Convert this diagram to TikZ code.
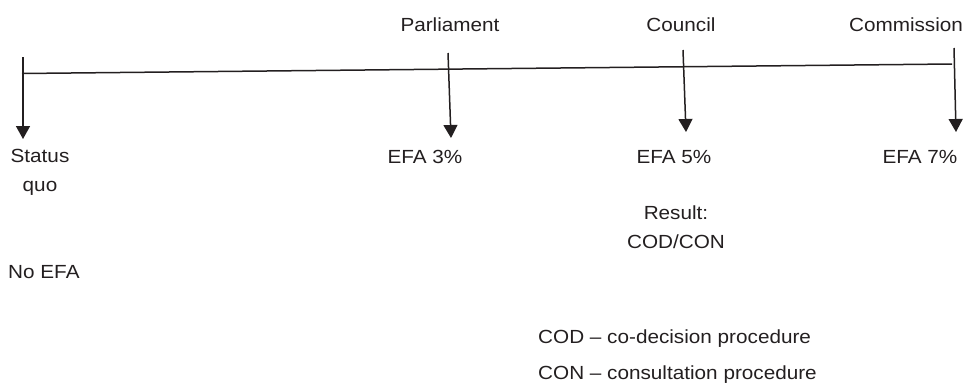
\documentclass[tikz,border=0pt]{standalone}
\usepackage{fontspec}
\setmainfont{Liberation Sans}[FakeStretch=1.09]
\usetikzlibrary{arrows.meta}
\definecolor{ink}{HTML}{231F20}
\tikzset{
  lbl/.style={anchor=base, inner sep=0pt, text=ink, font=\fontsize{19}{29}\selectfont, align=center},
  lbll/.style={lbl, anchor=base west, align=left},
  axis/.style={draw=ink, line width=1.5pt},
  arr/.style={draw=ink, line width=1.5pt, -{Triangle[width=14pt,length=13pt]}}
}
\begin{document}
\begin{tikzpicture}[x=1pt,y=-1pt]
\useasboundingbox (0,0) rectangle (968,383);
% main line
\coordinate (l1) at (22,73.5);
\coordinate (l2) at (952,64);
\draw[axis] (l1) -- (l2);
% top labels
\node[lbl] (parl) at (450,31) {Parliament};
\node[lbl] (coun) at (681,31) {Council};
\node[lbl] (comm) at (906,31) {Commission};
% arrow coordinates
\coordinate (s0) at (23,57);
\coordinate (s1) at (23,139);
\coordinate (p0) at (448,53);
\coordinate (p1) at (451,138);
\coordinate (c0) at (683,50);
\coordinate (c1) at (686,132);
\coordinate (m0) at (954,48);
\coordinate (m1) at (956,132);
\draw[arr] (s0) -- (s1);
\draw[arr] (p0) -- (p1);
\draw[arr] (c0) -- (c1);
\draw[arr] (m0) -- (m1);
% bottom labels (base anchor = last line)
\node[lbl] (sq) at (40,191) {Status\\quo};
\node[lbl] (e3) at (425,163) {EFA 3\%};
\node[lbl] (e5) at (674,163) {EFA 5\%};
\node[lbl] (e7) at (920,163) {EFA 7\%};
\node[lbl] (res) at (676,248) {Result:\\COD/CON};
\node[lbll] (noefa) at (8,278) {No EFA};
\node[lbll, font=\fontsize{19}{36}\selectfont] (leg) at (538,379) {COD -- co-decision procedure\\CON -- consultation procedure};
\end{tikzpicture}
\end{document}
